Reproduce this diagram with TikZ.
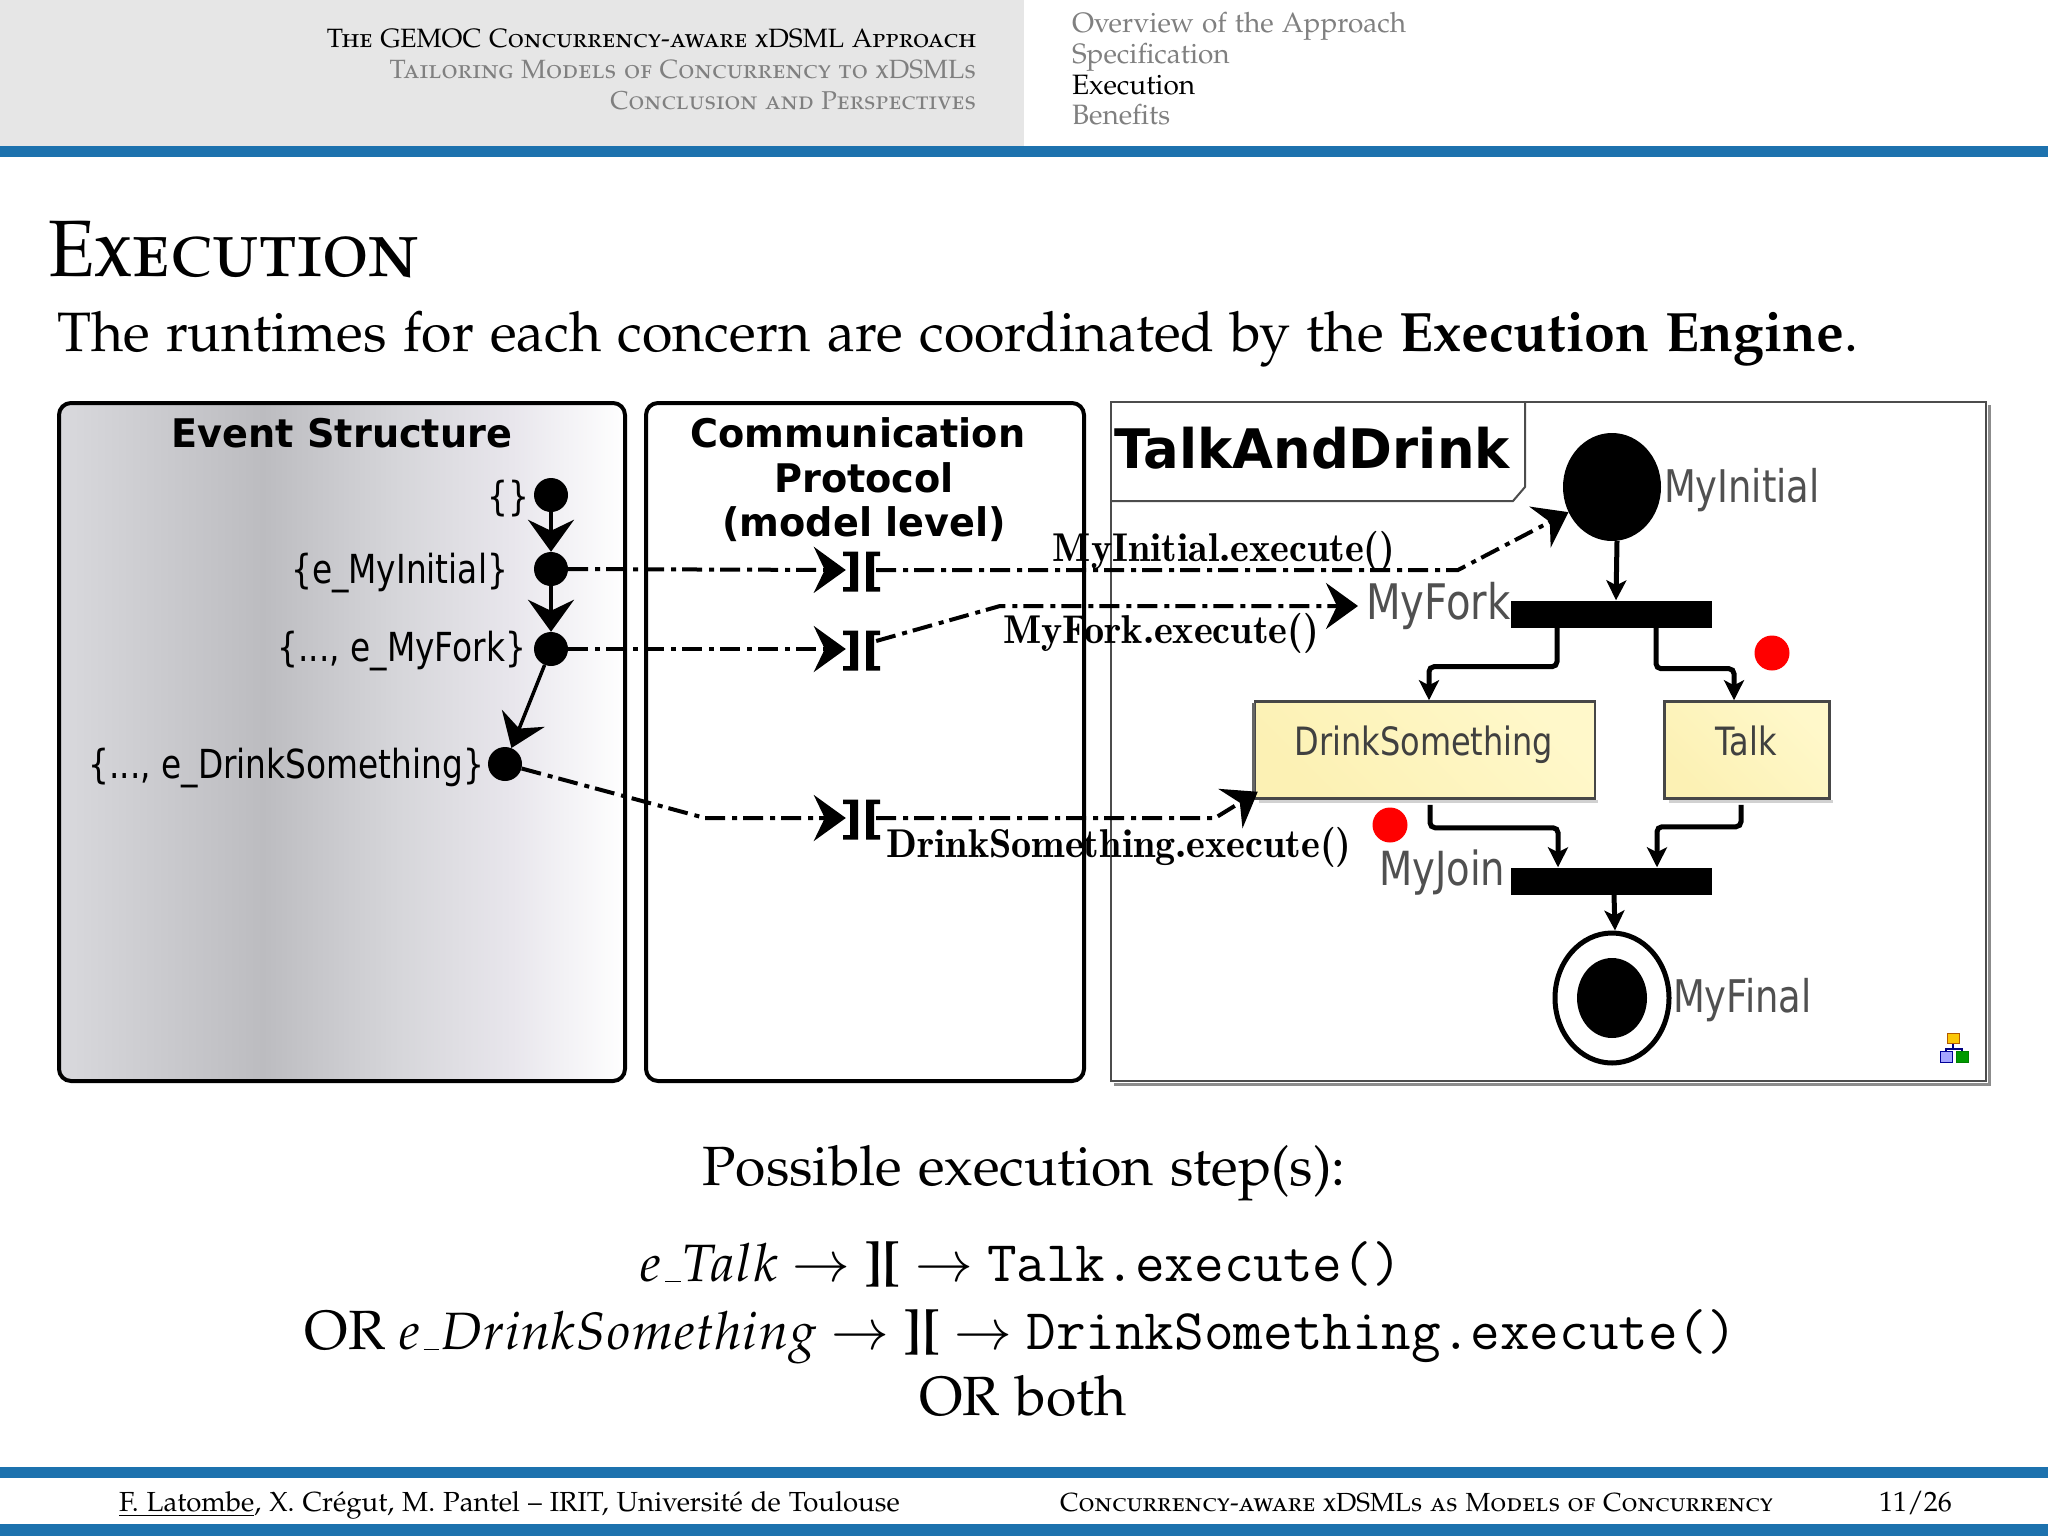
\documentclass[tikz,border=0pt]{standalone}
\usepackage{fontspec}
\usepackage{mathpazo}
\usetikzlibrary{arrows.meta,shapes.geometric,calc}
\newfontfamily\djb[FakeStretch=0.97]{DejaVu Sans}
\newfontfamily\djc[FakeStretch=0.82]{DejaVu Sans}
\newcommand\fs[1]{\fontsize{#1}{#1}\selectfont}
\newcommand\pala{\fontencoding{OT1}\fontfamily{pplx}\selectfont}
\newcommand\lmbold{\fontencoding{TU}\fontfamily{lmr}\fontseries{b}\selectfont}
\newcommand\mon[1]{{\fontencoding{TU}\fontfamily{lmtt}\fontsize{57.5}{57.5}\selectfont #1}}
\newcommand\mth[1]{\scalebox{0.95}{$#1$}}
\definecolor{barblue}{HTML}{1D72AE}
\definecolor{headgrey}{HTML}{E6E6E6}
\definecolor{navgrey}{HTML}{808080}
\definecolor{lblgrey}{HTML}{505050}
\definecolor{evA}{HTML}{D9D9DD}
\definecolor{evB}{HTML}{BCBCC0}
\definecolor{evC}{HTML}{D6D6DA}
\definecolor{evD}{HTML}{E8E6EC}
\definecolor{yelA}{HTML}{FCF1B4}
\definecolor{yelB}{HTML}{FFF8CA}
\pgfdeclarehorizontalshading{evshade}{100bp}{
 color(0bp)=(evA);
 color(25bp)=(evA);
 color(43bp)=(evB);
 color(55bp)=(evC);
 color(65bp)=(evD);
 color(75bp)=(white);
 color(100bp)=(white)}
\tikzset{
 txt/.style={inner sep=0pt,outer sep=0pt},
 panel/.style={draw=black,line width=4pt,rounded corners=12pt},
 evdot/.style={circle,fill=black,inner sep=0pt,minimum size=34pt},
 evlab/.style={txt,anchor=east,font=\djc\fs{40}},
 chev/.style={-{Stealth[length=32pt,width=46pt,inset=11pt]}},
 evarrow/.style={line width=3.5pt,chev},
 flow/.style={line width=4pt,dash pattern=on 20pt off 7pt on 5pt off 6pt,chev},
 exlab/.style={txt,font=\lmbold\fs{40.2}},
 bar/.style={fill=black,inner sep=0pt,minimum width=201pt,minimum height=27pt},
 action/.style={draw=black!72,line width=2.5pt,top color=yelB,bottom color=yelA,shading angle=-45,inner sep=0pt,minimum height=97pt},
 actlab/.style={txt,anchor=base,text=black!75,font=\djc\fs{39}},
 modlab/.style={txt,text=lblgrey,font=\djc\fs{45}},
 uml/.style={line width=5pt,rounded corners=5pt,-{Stealth[length=20pt,width=20pt,inset=5pt]}},
 reddot/.style={circle,fill=red,inner sep=0pt,minimum size=35pt},
 syncbox/.style={inner sep=0pt,minimum width=30pt,minimum height=40pt},
 syncbars/.pic={
  \fill (-18,-18.5) rectangle (-3,-14) (-11,-18.5) rectangle (-3,21.5) (-18,17) rectangle (-3,21.5);
  \fill (5,-18.5) rectangle (19,-14) (5,-18.5) rectangle (13,21.5) (5,17) rectangle (19,21.5);
 }
}
\begin{document}
\begin{tikzpicture}[x=1pt,y=-1pt]
\useasboundingbox (0,0) rectangle (2048,1536);
\fill[white] (0,0) rectangle (2048,1536);
% header
\fill[headgrey] (0,0) rectangle (1024,146);
\fill[barblue] (0,146) rectangle (2048,157);
\node[txt,anchor=base east,font=\pala\scshape\fs{26.5}] (h1) at (976,48) {The GEMOC Concurrency-aware xDSML Approach};
\node[txt,anchor=base east,text=navgrey,font=\pala\scshape\fs{26.4}] (h2) at (976,79) {Tailoring Models of Concurrency to xDSMLs};
\node[txt,anchor=base east,text=navgrey,font=\pala\scshape\fs{25.8}] (h3) at (976,110) {Conclusion and Perspectives};
\node[txt,anchor=base west,text=navgrey,font=\pala\fs{28}] (n1) at (1072,33) {Overview of the Approach};
\node[txt,anchor=base west,text=navgrey,font=\pala\fs{28}] (n2) at (1072,64) {Specification};
\node[txt,anchor=base west,font=\pala\fs{28}] (n3) at (1072,95) {Execution};
\node[txt,anchor=base west,text=navgrey,font=\pala\fs{28}] (n4) at (1072,125) {Benefits};
% title
\node[txt,anchor=base west,font=\pala\scshape\fs{80}] (title) at (48,276) {\scalebox{0.95}[1]{Execution}};
\node[txt,anchor=base west,font=\pala\fs{55.5}] (sub) at (57,351) {The runtimes for each concern are coordinated by the \textbf{Execution Engine}.};
% panels
\path[shading=evshade,rounded corners=12pt] (59,403) rectangle (625,1081);
\draw[panel] (59,403) rectangle (625,1081);
\draw[panel] (646,403) rectangle (1084,1081);
\node[txt,font=\djb\bfseries\fs{39.4}] (evt) at (342,433) {Event Structure};
\node[txt,font=\djb\bfseries\fs{39.4}] (cp1) at (858,433) {Communication};
\node[txt,font=\djb\bfseries\fs{39.4}] (cp2) at (864,478) {Protocol};
\node[txt,font=\djb\bfseries\fs{39.4}] (cp3) at (864,524) {(model level)};
% model frame
\draw[black!45,line width=3pt] (1989,405) -- (1989,1084) -- (1114,1084);
\draw[black!70,line width=2pt] (1111,402) rectangle (1986,1081);
\draw[black!70,line width=2pt] (1111,501) -- (1513,501) -- (1525,487) -- (1525,402);
\node[txt,font=\djb\bfseries\fs{54.5}] (tad) at (1312,448) {TalkAndDrink};
% event nodes
\node[evdot] (e0) at (551,495) {};
\node[evdot] (e1) at (551,569) {};
\node[evdot] (e2) at (551,649) {};
\node[evdot] (e3) at (505,764) {};
\node[evlab] (l0) at (529,499) {\{\}};
\node[evlab] (l1) at (508,573) {\{e\_MyInitial\}};
\node[evlab] (l2) at (526,651) {\{..., e\_MyFork\}};
\node[evlab] (l3) at (484,768) {\{..., e\_DrinkSomething\}};
\draw[evarrow] (e0) -- (e1);
\draw[evarrow] (e1) -- (e2);
\draw[evarrow] (e2) -- (e3);
% sync
\node[syncbox] (s1) at (861,570) {};
\node[syncbox] (s2) at (861,649) {};
\node[syncbox] (s3) at (861,818) {};
\pic at (s1) {syncbars};
\pic at (s2) {syncbars};
\pic at (s3) {syncbars};
% model
\node[ellipse,fill=black,inner sep=0pt,minimum width=98pt,minimum height=108pt] (init) at (1612,487) {};
\node[modlab,anchor=west] (linit) at (1664,490) {MyInitial};
\node[bar] (fork) at (1611,614) {};
\node[bar] (join) at (1611,881) {};
\node[modlab,anchor=west,font=\djc\fs{49}] (lfork) at (1366,606) {MyFork};
\node[modlab,anchor=west,font=\djc\fs{47}] (ljoin) at (1379,873) {MyJoin};
\fill[black!18] (1259,800) rectangle (1598,803);
\fill[black!18] (1669,800) rectangle (1833,803);
\node[action,minimum width=340pt] (drink) at (1425,750) {};
\node[action,minimum width=165pt] (talk) at (1747,750) {};
\draw[black!60,line width=3pt] (1253,703) -- (1253,798);
\node[actlab] (tdrink) at (1424,755) {DrinkSomething};
\node[actlab] (ttalk) at (1746,755) {Talk};
\node[ellipse,draw=black,line width=5pt,fill=white,inner sep=0pt,minimum width=114pt,minimum height=130pt] (final) at (1612,998) {};
\node[ellipse,fill=black,inner sep=0pt,minimum width=70pt,minimum height=80pt] at (final) (finalin) {};
\node[modlab,anchor=west] (lfinal) at (1673,1000) {MyFinal};
\node[reddot] (r1) at (1772,653) {};
\node[reddot] (r2) at (1390,825) {};
\draw[uml] ($(init.south)+(5,0)$) -- ($(fork.north)+(5,0)$);
\draw[uml] ($(fork.south)+(-54,0)$) -- ++(0,39) -| ($(drink.north)+(4,0)$);
\draw[uml] ($(fork.south)+(45,0)$) -- ++(0,41) -| ($(talk.north)+(-13,0)$);
\draw[uml] ($(drink.south)+(5,5)$) -- ++(0,23) -| ($(join.north)+(-53,0)$);
\draw[uml] ($(talk.south)+(-6,5)$) -- ++(0,22) -| ($(join.north)+(46,0)$);
\draw[uml] ($(join.south)+(3,0)$) -- ($(final.north)+(3,0)$);
% flows
\coordinate (b1) at (1458,570);
\coordinate (b2) at (1000,606);
\coordinate (b3) at (705,818);
\coordinate (b4) at (1215,818);
\draw[flow] (e1) -- (s1.west);
\draw[flow] (e2) -- (s2.west);
\draw[flow] (e3) -- (b3) -- (s3.west);
\draw[flow] (s1.east) -- (b1) -- (init.210);
\draw[flow,shorten >=8pt] ($(s2.east)+(0,-8)$) -- (b2) -- (b2 -| lfork.west);
\draw[flow] (s3.east) -- (b4) -- ($(drink.south west)+(4,-8)$);
\node[exlab] (x1) at (1224,551) {MyInitial.execute()};
\node[exlab] (x2) at (1161,633) {MyFork.execute()};
\node[exlab] (x3) at (1119,847) {DrinkSomething.execute()};
% icon
\draw[black!50!blue,line width=1.5pt] (1953,1044) -- (1953,1049) (1946,1052) -- (1946,1049) -- (1962,1049) -- (1962,1052);
\node[draw=orange!70!black,fill=yellow!60!orange,inner sep=0pt,minimum width=12pt,minimum height=10pt] (i1) at (1953,1038) {};
\node[draw=blue!60!black,fill=blue!35,inner sep=0pt,minimum width=12pt,minimum height=11pt] (i2) at (1946,1057) {};
\node[draw=green!50!black,fill=green!60!black,inner sep=0pt,minimum width=12pt,minimum height=11pt] (i3) at (1962,1057) {};
% lower text
\node[txt,anchor=base,font=\pala\fs{55.3}] (p) at (1024,1185) {Possible execution step(s):};
\node[txt,anchor=base,font=\pala\fs{55.3}] (q1) at (1021,1281) {\spaceskip=13.5pt\relax\mth{e\_Talk} $\rightarrow$ \textbf{][} $\rightarrow$ \mon{Talk.execute()}};
\node[txt,anchor=base,font=\pala\fs{55.3}] (q2) at (1021,1349) {\spaceskip=13.5pt\relax OR \mth{e\_DrinkSomething} $\rightarrow$ \textbf{][} $\rightarrow$ \mon{DrinkSomething.execute()}};
\node[txt,anchor=base,font=\pala\fs{55.3}] (q3) at (1023,1415) {OR both};
% footer
\fill[barblue] (0,1467) rectangle (2048,1478);
\fill[barblue] (0,1524) rectangle (2048,1536);
\node[txt,anchor=base west,font=\pala\fs{27.6}] (f1) at (119,1511) {\underline{F. Latombe}, X. Cr\'egut, M. Pantel -- IRIT, Universit\'e de Toulouse};
\node[txt,anchor=base west,font=\pala\scshape\fs{26.2}] (f2) at (1060,1511) {Concurrency-aware xDSMLs as Models of Concurrency};
\node[txt,anchor=base west,font=\pala\fs{28}] (f3) at (1879,1511) {11/26};
\end{tikzpicture}
\end{document}
